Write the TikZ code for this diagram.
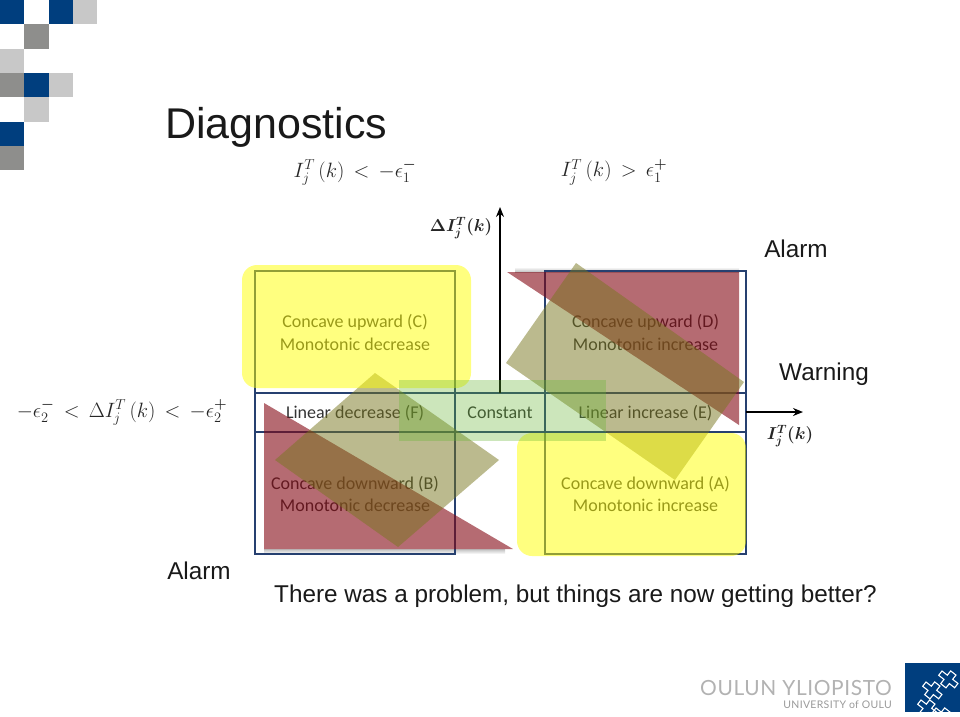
\documentclass[tikz,border=0pt]{standalone}
\usepackage{amsmath,amssymb}
\usepackage{bm}
\usepackage{xcolor}
\usepackage{fontspec}
\usetikzlibrary{arrows.meta}
\setmainfont{Liberation Sans}
\newfontfamily\calibri{Carlito}
\newfontfamily\thinlogo[LetterSpace=3]{Lato}
\definecolor{oulublue}{RGB}{0,62,126}
\definecolor{darksq}{RGB}{142,142,140}
\definecolor{lightsq}{RGB}{200,200,200}
\definecolor{gridblue}{RGB}{38,64,112}
\definecolor{tricolor}{RGB}{132,8,20}
\definecolor{boxolive}{RGB}{120,118,30}
\definecolor{flatgreen}{RGB}{100,180,50}
\definecolor{paleyellow}{RGB}{255,255,0}
\newcommand{\wrel}[1]{\mkern3mu#1\mkern3mu}
\tikzset{
  slidetext/.style={inner sep=0pt,font=\fontsize{24.3}{28}\selectfont,text=black!90},
  mathlabel/.style={inner sep=0pt,font=\fontsize{20.74}{25}\selectfont,text=black!85},
  boldlabel/.style={inner sep=0pt,font=\fontsize{18}{22}\selectfont\boldmath,text=black!85},
  celltext/.style={inner sep=0pt,align=center,font=\calibri\fontsize{18}{22.5}\selectfont,text=black!80},
  gridline/.style={line width=1.4pt,gridblue},
  axisline/.style={line width=1.5pt,black,-{Stealth[length=10pt,width=8pt]}},
  softyellow/.style={fill=paleyellow,fill opacity=0.5,rounded corners=15pt},
  softred/.style={fill=tricolor,fill opacity=0.6},
  softolive/.style={fill=boxolive,fill opacity=0.5},
  softgreen/.style={fill=flatgreen,fill opacity=0.33},
  mazeline/.style={white,line width=1.1pt}
}
\begin{document}
\begin{tikzpicture}[x=1pt,y=-1pt]
  \useasboundingbox (0,0) rectangle (960,716);

  % corner squares
  \foreach \col/\row in {0/0,2/0,1/3,0/5}
    \fill[oulublue] (\col*24.3,\row*24.3) rectangle ++(24.3,24.3);
  \foreach \col/\row in {1/1,0/3,0/6}
    \fill[darksq] (\col*24.3,\row*24.3) rectangle ++(24.3,24.3);
  \foreach \col/\row in {3/0,0/2,2/3,1/4}
    \fill[lightsq] (\col*24.3,\row*24.3) rectangle ++(24.3,24.3);

  % title
  \node[anchor=west,inner sep=0pt,font=\fontsize{43}{50}\selectfont,text=black!90] (title) at (165,127) {Diagnostics};

  % conditions above and left
  \node[mathlabel] (condleft) at (355,172) {$I_j^T\,(k)\wrel{<}-\epsilon_1^{\boldsymbol{-}}$};
  \node[mathlabel] (condright) at (614,172) {$I_j^T\,(k)\wrel{>}\epsilon_1^{\boldsymbol{+}}$};
  \node[mathlabel] (condband) at (122,412) {$-\epsilon_2^{\boldsymbol{-}}\wrel{<}\Delta I_j^T\,(k)\wrel{<}-\epsilon_2^{\boldsymbol{+}}$};

  % shadows of the triangles
  \shade[top color=white,bottom color=black!25] (515,267) rectangle (739,272);
  \shade[top color=black!25,bottom color=white] (264,549) rectangle (505,554);

  % grid
  \draw[gridline] (255,271) rectangle (455,554);
  \draw[gridline] (545,271) rectangle (746,554);
  \draw[gridline] (255,393) -- (746,393);
  \draw[gridline] (255,432) -- (746,432);

  % axes
  \coordinate (origin) at (500,393);
  \coordinate (ytip) at (500,207);
  \coordinate (xstart) at (746,412);
  \coordinate (xtip) at (803,412);
  \draw[axisline] (origin) -- (ytip);
  \draw[axisline] (xstart) -- (xtip);
  \node[boldlabel] (ylabel) at (461,228) {$\mathbf{\Delta}I_j^T(k)$};
  \node[boldlabel] (xlabel) at (790,436) {$I_j^T(k)$};

  % cell labels
  \node[celltext] (cellC) at (355,332.5) {Concave upward (C)\\Monotonic decrease};
  \node[celltext] (cellD) at (645.5,332.5) {Concave upward (D)\\Monotonic increase};
  \node[celltext] (cellF) at (355,413) {Linear decrease (F)};
  \node[celltext] (cellK) at (500,413) {Constant};
  \node[celltext] (cellE) at (645.5,413) {Linear increase (E)};
  \node[celltext] (cellB) at (355,494) {Concave downward (B)\\Monotonic decrease};
  \node[celltext] (cellA) at (645.5,494) {Concave downward (A)\\Monotonic increase};

  % overlays
  \fill[softred] (264,403) -- (264,549) -- (513,549) -- cycle;
  \fill[softred] (507,272) -- (739,272) -- (739,425) -- cycle;
  \fill[softolive] (375,373) -- (499,460) -- (398,547) -- (275,460) -- cycle;
  \fill[softolive] (576,263) -- (744,382) -- (675,480) -- (506,363) -- cycle;
  \fill[softyellow] (242,265) rectangle (471,388);
  \fill[softyellow] (517,433) rectangle (746,556);
  \fill[softgreen] (399,380) rectangle (606,441);

  % slide remarks
  \node[slidetext] (alarmtop) at (796,249) {Alarm};
  \node[slidetext] (warning) at (824,374) {Warning};
  \node[slidetext] (alarmlow) at (199,571) {Alarm};
  \node[slidetext,anchor=west] (remark) at (274,596) {There was a problem, but things are now getting better?};

  % university mark
  \node[anchor=east,inner sep=0pt,font=\thinlogo\fontsize{20.9}{24}\selectfont,text=black!30] (uniname) at (892,688) {OULUN YLIOPISTO};
  \node[anchor=east,inner sep=0pt,font=\thinlogo\fontsize{10.5}{13}\selectfont,text=black!40] (unisub) at (892,705) {UNIVERSITY of OULU};
  \fill[oulublue] (904.5,663) rectangle (960,712);
  \begin{scope}
    \clip (904.5,663) rectangle (960,712);
    \foreach \mx/\my in {926/682,942/671,921/700,936/708}
      \draw[mazeline,shift={(\mx,\my)},rotate=-38,scale=1.35]
        (0,0) -- (5,0) -- (5,-4) -- (10,-4) -- (10,0) -- (15,0) -- (15,4) -- (10,4) -- (10,8) -- (5,8) -- (5,4) -- (0,4) -- cycle;
  \end{scope}
\end{tikzpicture}
\end{document}
